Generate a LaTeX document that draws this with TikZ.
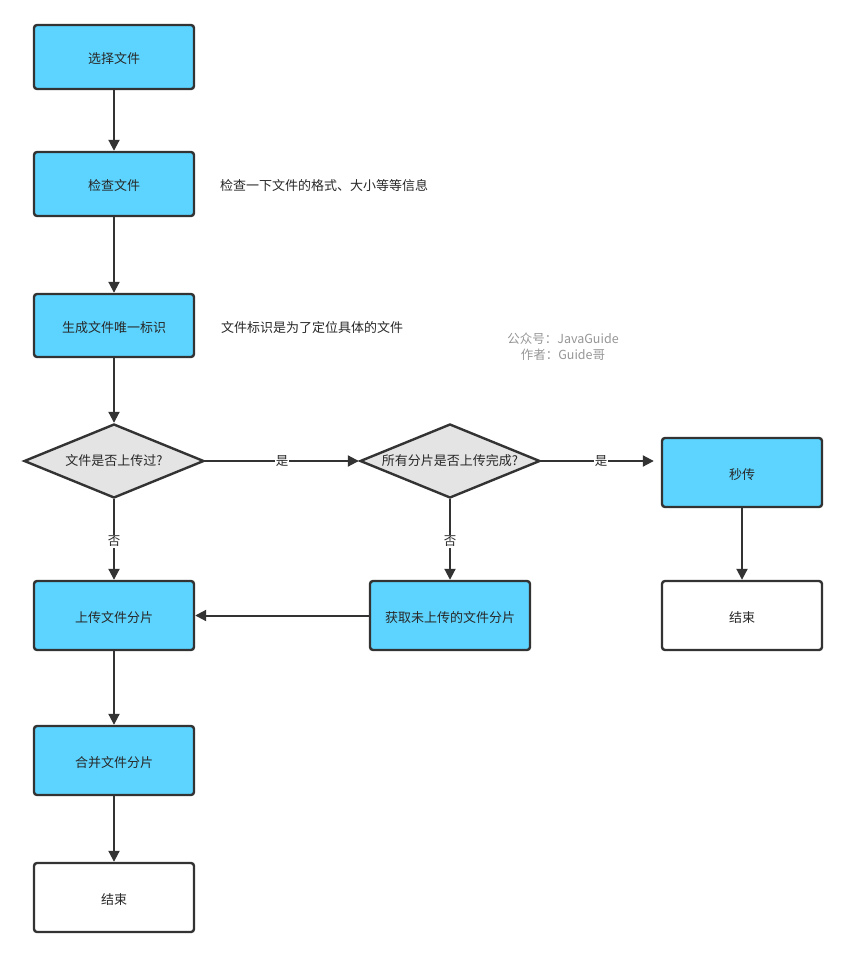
\documentclass[tikz,border=0pt]{standalone}
\usepackage{fontspec}
\setmainfont{Noto Sans CJK SC}
\usetikzlibrary{shapes.geometric,arrows.meta}
\definecolor{boxblue}{RGB}{92,212,255}
\definecolor{dgray}{RGB}{228,228,228}
\definecolor{lineg}{RGB}{51,51,51}
\definecolor{txt}{RGB}{40,40,40}
\definecolor{wm}{RGB}{150,150,150}
\tikzset{
  procbox/.style={draw=lineg, line width=2.4pt, rounded corners=3pt, fill=boxblue,
    minimum width=160pt, inner sep=0pt, text=txt, text height=13pt, text depth=0pt,
    font=\fontsize{13}{15}\selectfont},
  endbox/.style={procbox, fill=white},
  decision/.style={diamond, draw=lineg, line width=2.4pt, fill=dgray, aspect=2.43,
    inner sep=0pt, minimum width=180pt, minimum height=74pt, text=txt,
    font=\fontsize{13}{15}\selectfont},
  conn/.style={draw=lineg, line width=2pt, -{Triangle[length=11pt,width=11pt]}},
  lbl/.style={fill=white, inner sep=1pt, text=txt, font=\fontsize{12.5}{14}\selectfont},
  note/.style={anchor=west, text=txt, inner sep=0pt, font=\fontsize{13}{15}\selectfont},
  wmark/.style={text=wm, inner sep=0pt, font=\fontsize{12.5}{14}\selectfont}
}
\begin{document}
\begin{tikzpicture}[x=1pt,y=-1pt]
\useasboundingbox (0,0) rectangle (847,957);
\node[procbox, minimum height=64pt] (sel) at (114,57) {选择文件};
\node[procbox, minimum height=64pt] (chk) at (114,184) {检查文件};
\node[procbox, minimum height=63pt] (gen) at (114,325.5) {生成文件唯一标识};
\node[decision] (d1) at (114,461) {文件是否上传过?};
\node[decision] (d2) at (450,461) {所有分片是否上传完成?};
\node[procbox, minimum height=69pt] (fast) at (742,472.5) {秒传};
\node[endbox, minimum height=69pt] (end2) at (742,615.5) {结束};
\node[procbox, minimum height=69pt] (up) at (114,615.5) {上传文件分片};
\node[procbox, minimum height=69pt] (get) at (450,615.5) {获取未上传的文件分片};
\node[procbox, minimum height=69pt] (merge) at (114,760.5) {合并文件分片};
\node[endbox, minimum height=69pt] (end1) at (114,897.5) {结束};

\node[note] (n1) at (220,186) {检查一下文件的格式、大小等等信息};
\node[note] (n2) at (221,328) {文件标识是为了定位具体的文件};
\node[wmark] (w1) at (563,339) {公众号：JavaGuide};
\node[wmark] (w2) at (563,355) {作者：Guide哥};

\draw[conn] (sel) -- (chk);
\draw[conn] (chk) -- (gen);
\draw[conn] (gen) -- (d1);
\draw[conn] (d1) -- node[lbl] {是} (d2);
\draw[conn, shorten >=7pt] (d2) -- node[lbl] {是} (d2.east -| fast.west);
\draw[conn] (d1) -- node[lbl, yshift=-2pt] {否} (up);
\draw[conn] (d2) -- node[lbl, yshift=-2pt] {否} (get);
\draw[conn] (get) -- (up);
\draw[conn] (fast) -- (end2);
\draw[conn] (up) -- (merge);
\draw[conn] (merge) -- (end1);
\end{tikzpicture}
\end{document}
